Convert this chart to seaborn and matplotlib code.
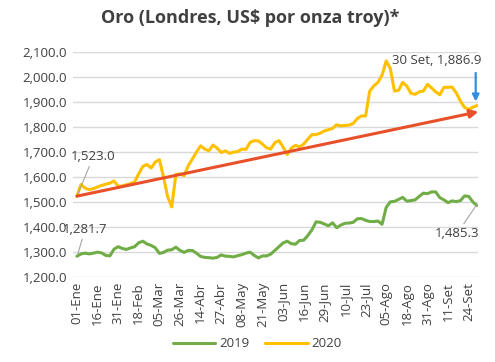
import numpy as np
import pandas as pd
import matplotlib
matplotlib.use("Agg")
import matplotlib.pyplot as plt
import seaborn as sns

# ── data (precio diario aproximado, cada ~2 dias habiles) ──
tick_labels = ["01-Ene", "16-Ene", "31-Ene", "18-Feb", "05-Mar", "26-Mar", "14-Abr",
               "27-Abr", "08-May", "21-May", "03-Jun", "16-Jun", "29-Jun", "10-Jul",
               "23-Jul", "05-Ago", "18-Ago", "31-Ago", "11-Set", "24-Set"]

oro_2020 = [1523.0, 1570, 1555, 1549, 1553, 1560, 1566, 1571, 1575, 1584,
            1563, 1564, 1569, 1573, 1581, 1613, 1643, 1650, 1636, 1660,
            1670, 1600, 1521, 1480, 1610, 1612, 1605, 1645, 1672, 1700,
            1725, 1712, 1705, 1728, 1716, 1698, 1705, 1695, 1700, 1702,
            1712, 1711, 1739, 1746, 1745, 1732, 1717, 1712, 1738, 1746,
            1720, 1690, 1716, 1727, 1721, 1732, 1752, 1770, 1770, 1776,
            1785, 1790, 1795, 1810, 1805, 1807, 1808, 1815, 1835, 1845,
            1845, 1945, 1966, 1980, 2009, 2066, 2036, 1945, 1948, 1980,
            1965, 1936, 1932, 1942, 1945, 1972, 1958, 1942, 1930, 1960,
            1960, 1961, 1937, 1905, 1879, 1872, 1880, 1886.9]

oro_2019 = [1281.7, 1291, 1294, 1291, 1294, 1298, 1295, 1285, 1283, 1310,
            1320, 1313, 1309, 1315, 1320, 1336, 1342, 1331, 1325, 1316,
            1293, 1297, 1306, 1308, 1318, 1305, 1297, 1305, 1305, 1294,
            1281, 1277, 1276, 1274, 1277, 1287, 1282, 1281, 1279, 1284,
            1288, 1294, 1298, 1285, 1275, 1283, 1283, 1290, 1305, 1320,
            1335, 1342, 1332, 1330, 1345, 1346, 1365, 1388, 1420, 1418,
            1411, 1404, 1416, 1396, 1407, 1414, 1415, 1418, 1432, 1433,
            1426, 1421, 1421, 1423, 1410, 1478, 1500, 1502, 1510, 1518,
            1503, 1505, 1508, 1522, 1535, 1533, 1540, 1540, 1517, 1508,
            1497, 1504, 1501, 1505, 1524, 1522, 1500, 1485.3]

years = ["2019", "2020"]
colors = {"2019": "#70AD47", "2020": "#FFC000"}

# ─────────────────────────────────────────────
# long format for seaborn
# ─────────────────────────────────────────────
n = len(oro_2020)
df = pd.DataFrame({
    "dia":    np.concatenate([np.arange(n), np.arange(n)]),
    "precio": oro_2019 + oro_2020,
    "anio":   ["2019"] * n + ["2020"] * n,
})

sns.set_style("white")
plt.rcParams["font.family"] = ["Open Sans", "DejaVu Sans"]
txt_color = "#404040"

fig, ax = plt.subplots(figsize=(4.95, 3.62), dpi=100)
fig.subplots_adjust(left=0.147, right=0.966, top=0.855, bottom=0.236)

sns.lineplot(data=df, x="dia", y="precio", hue="anio", hue_order=years,
             palette=colors, linewidth=2.2, ax=ax, legend=False)

ax.set_ylim(1200, 2100)
ax.set_xlim(-1, n - 0.7)
ax.set_yticks(np.arange(1200, 2101, 100))
ax.set_yticklabels([f"{v:,.1f}" for v in np.arange(1200, 2101, 100)],
                   fontsize=9.5, color=txt_color)
ax.set_xticks(np.arange(0, 5 * len(tick_labels), 5))
ax.set_xticklabels(tick_labels, rotation=90, fontsize=9.5, color=txt_color)
ax.tick_params(axis="both", length=0, pad=4)
ax.grid(axis="y", color="#D9D9D9", linewidth=1)
ax.set_axisbelow(True)
ax.set_xlabel("")
ax.set_ylabel("")
sns.despine(ax=ax, left=True, bottom=True)

# tendencia (flecha roja)
ax.annotate("", xy=(n - 0.6, 1862), xytext=(0, oro_2020[0]),
            arrowprops=dict(arrowstyle="-|>", color="#E8502A", lw=2.2,
                            mutation_scale=12, shrinkA=0, shrinkB=0),
            annotation_clip=False, zorder=5)

# etiquetas de valores
lead = dict(arrowstyle="-", color="#A6A6A6", lw=0.8, shrinkA=0, shrinkB=0)
ax.annotate(f"{oro_2020[0]:,.1f}", xy=(0.2, 1530), xytext=(4, 1682),
            ha="center", va="center", fontsize=9.5, color=txt_color,
            arrowprops=lead)
ax.annotate(f"{oro_2019[0]:,.1f}", xy=(0.2, 1290), xytext=(2, 1390),
            ha="center", va="center", fontsize=9.5, color=txt_color,
            arrowprops=lead)
ax.annotate(f"{oro_2019[-1]:,.1f}", xy=(n - 1, 1490), xytext=(92.2, 1373),
            ha="center", va="center", fontsize=9.5, color=txt_color,
            arrowprops=lead)
ax.text(98, 2068, f"30 Set, {oro_2020[-1]:,.1f}", ha="right", va="center",
        fontsize=9.5, color=txt_color, clip_on=False)
ax.annotate("", xy=(n - 1.3, 1903), xytext=(n - 1.3, 2018),
            arrowprops=dict(arrowstyle="-|>", color="#2E8FE0", lw=1.6,
                            mutation_scale=10, shrinkA=0, shrinkB=0),
            annotation_clip=False)

fig.suptitle("Oro (Londres, US$ por onza troy)*", x=0.505, y=0.975,
             fontsize=13, fontweight="bold", color=txt_color)

handles = [plt.Line2D([], [], color=colors[y], lw=2.2) for y in years]
fig.legend(handles, years, loc="lower center", ncol=2, frameon=False,
           bbox_to_anchor=(0.52, 0.0), fontsize=9.5, handlelength=3.2,
           columnspacing=1.2, handletextpad=0.3, labelcolor=txt_color)

plt.savefig("out.png", dpi=100)
